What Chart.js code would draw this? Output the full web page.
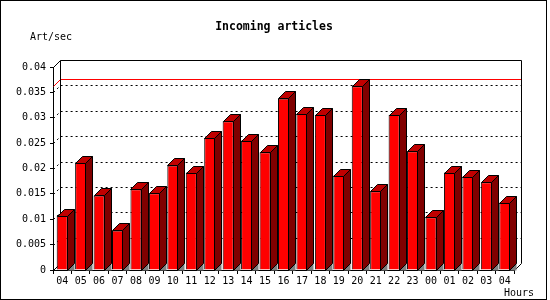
<!DOCTYPE html>
<html>
<head>
<meta charset="utf-8">
<script src="https://cdn.jsdelivr.net/npm/chart.js@4/dist/chart.umd.min.js"></script>
<style>
  body { margin: 0; background: #fff; }
  #wrap { width: 550px; height: 300px; }
</style>
</head>
<body>
<div id="wrap"><canvas id="myChart" width="550" height="300"></canvas></div>
<script>
const hours = ['04','05','06','07','08','09','10','11','12','13','14','15','16',
  '17','18','19','20','21','22','23','00','01','02','03','04']
const artPerSec = [0.0107, 0.0211, 0.0147, 0.0078, 0.0159, 0.0151, 0.0206, 0.0192,
  0.0260, 0.0293, 0.0255, 0.0232, 0.0338, 0.0308, 0.0306, 0.0186, 0.0362, 0.0155,
  0.0306, 0.0234, 0.0104, 0.0192, 0.0184, 0.0173, 0.0133]
const yTicks = [0, 0.005, 0.01, 0.015, 0.02, 0.025, 0.03, 0.035, 0.04]

const depth = 7
Chart.defaults.font.family = 'DejaVu Sans Mono'
Chart.defaults.color = '#000'

// walls, grid, floor and the max line behind the bars, side/top faces after
const threeD = {
  id: 'threeD',
  beforeDatasetsDraw(chart) {
    const { ctx, chartArea: a, scales: { y } } = chart
    const L = Math.round(a.left) + 0.5, R = Math.round(a.right) + 0.5
    const T = Math.round(a.top) + 0.5, B = Math.round(a.bottom) + 0.5
    ctx.save()
    ctx.lineWidth = 1
    ctx.strokeStyle = '#000'
    ctx.setLineDash([2, 3])
    yTicks.slice(1, -1).forEach(v => {
      const py = Math.round(y.getPixelForValue(v)) + 0.5
      ctx.beginPath()
      ctx.moveTo(L, py)
      ctx.lineTo(L + depth, py - depth)
      ctx.lineTo(R + depth, py - depth)
      ctx.stroke()
    })
    ctx.setLineDash([])
    const maxY = Math.round(y.getPixelForValue(Math.max(...artPerSec))) + 0.5
    ctx.strokeStyle = '#ff0000'
    ctx.beginPath()
    ctx.moveTo(L, maxY)
    ctx.lineTo(L + depth, maxY - depth)
    ctx.lineTo(R + depth, maxY - depth)
    ctx.stroke()
    ctx.strokeStyle = '#000'
    ctx.beginPath()
    ctx.moveTo(L, T)
    ctx.lineTo(L + depth, T - depth)
    ctx.lineTo(R + depth, T - depth)
    ctx.lineTo(R + depth, B - depth)
    ctx.lineTo(R, B)
    ctx.moveTo(L + depth, T - depth)
    ctx.lineTo(L + depth, B - depth)
    ctx.moveTo(L, B)
    ctx.lineTo(L + depth, B - depth)
    ctx.stroke()
    ctx.restore()
  },
  afterDatasetsDraw(chart) {
    const ctx = chart.ctx
    ctx.save()
    ctx.lineWidth = 1
    ctx.strokeStyle = '#000'
    chart.getDatasetMeta(0).data.forEach(bar => {
      const { x, y, width, base } = bar.getProps(['x', 'y', 'width', 'base'], true)
      const x0 = Math.round(x - width / 2) + 0.5, x1 = Math.round(x + width / 2) - 0.5
      const top = Math.round(y) + 0.5, bot = Math.round(base) + 0.5
      ctx.fillStyle = '#808080'
      ctx.beginPath()
      ctx.moveTo(x1, bot); ctx.lineTo(x1 + depth, bot - depth); ctx.lineTo(x1 + depth, bot)
      ctx.closePath(); ctx.fill()
      ctx.fillStyle = '#800000'
      ctx.beginPath()
      ctx.moveTo(x1, top); ctx.lineTo(x1 + depth, top - depth)
      ctx.lineTo(x1 + depth, bot - depth); ctx.lineTo(x1, bot)
      ctx.closePath(); ctx.fill(); ctx.stroke()
      ctx.fillStyle = '#c00000'
      ctx.beginPath()
      ctx.moveTo(x0, top); ctx.lineTo(x0 + depth, top - depth)
      ctx.lineTo(x1 + depth, top - depth); ctx.lineTo(x1, top)
      ctx.closePath(); ctx.fill(); ctx.stroke()
    })
    ctx.restore()
  },
  afterDraw(chart) {
    const ctx = chart.ctx
    ctx.save()
    ctx.strokeStyle = '#000'
    ctx.lineWidth = 1
    ctx.strokeRect(0.5, 0.5, 546, 299)
    ctx.fillStyle = '#000'
    ctx.textBaseline = 'middle'
    ctx.textAlign = 'center'
    ctx.font = 'bold 11.5px "DejaVu Sans Mono"'
    ctx.fillText('Incoming articles', 274, 27)
    ctx.textAlign = 'left'
    ctx.font = '10px "DejaVu Sans Mono"'
    ctx.fillText('Art/sec', 30, 37)
    ctx.fillText('Hours', 504, 293)
    ctx.restore()
  }
}

const ctx = document.getElementById('myChart').getContext('2d')
const myChart = new Chart(ctx, {
  type: 'bar',
  data: {
    labels: hours,
    datasets: [{
      data: artPerSec,
      backgroundColor: '#ff0000',
      borderColor: '#000',
      borderWidth: 1,
      barPercentage: 0.6,
      categoryPercentage: 1
    }]
  },
  options: {
    responsive: false,
    animation: false,
    layout: { padding: { left: 0, top: 67, right: 36, bottom: 0 } },
    plugins: { legend: { display: false }, tooltip: { enabled: false } },
    scales: {
      x: {
        afterFit: s => { s.height = 30 },
        border: { color: '#000' },
        grid: { offset: true, drawOnChartArea: false, tickLength: 4, color: '#000' },
        ticks: { padding: 1, font: { size: 10 }, maxRotation: 0, autoSkip: false }
      },
      y: {
        min: 0,
        max: 0.04,
        afterFit: s => { s.width = 53 },
        afterBuildTicks: s => { s.ticks = yTicks.map(v => ({ value: v })) },
        border: { color: '#000' },
        grid: { drawOnChartArea: false, tickLength: 3, color: '#000' },
        ticks: { padding: 4, font: { size: 10 }, callback: v => String(+v.toFixed(3)) }
      }
    }
  },
  plugins: [threeD]
})
</script>
</body>
</html>
